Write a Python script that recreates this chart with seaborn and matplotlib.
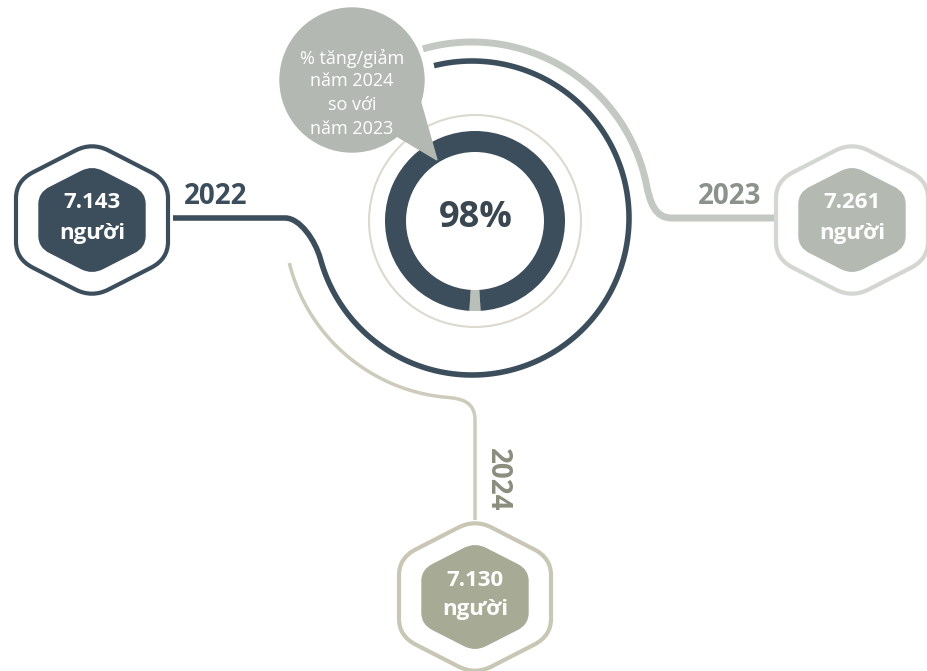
import numpy as np
import matplotlib
matplotlib.use("Agg")
import matplotlib.pyplot as plt
from matplotlib.path import Path
from matplotlib.patches import PathPatch, Circle, Polygon
import seaborn as sns

sns.set_theme(style="white")
plt.rcParams['font.family'] = ['Open Sans', 'DejaVu Sans']

# data
years = ["2022", "2023", "2024"]
counts = [7143, 7261, 7130]
unit = "người"
pct_change = 98
bubble_lines = ["% tăng/giảm", "năm 2024", "so với", "năm 2023"]

dark = "#3c4e5c"
grey = "#c3c8c2"
tan = "#cdcbbb"
hex_fill = [dark, "#b4b9b2", "#a7aa94"]
hex_edge = [dark, "#d3d6d1", "#c8c7b5"]
label_col = [dark, "#8a928b", "#8b8d7d"]


def arc_pts(cx, cy, r, a0, a1, n=200):
    t = np.radians(np.linspace(a0, a1, n))
    return list(zip(cx + r * np.cos(t), cy + r * np.sin(t)))


def path_from(parts):
    verts, codes = [], []
    for kind, pts in parts:
        if kind == "line":
            for p in pts:
                verts.append(p)
                codes.append(Path.LINETO if verts[:-1] else Path.MOVETO)
        else:  # cubic bezier: 3 points
            verts += pts
            codes += [Path.CURVE4] * 3
    return Path(verts, codes)


def rounded_hex(cx, cy, w, h, f=0.22):
    v = [(cx, cy - h), (cx + w, cy - h / 2), (cx + w, cy + h / 2),
         (cx, cy + h), (cx - w, cy + h / 2), (cx - w, cy - h / 2)]
    v = [np.array(p) for p in v]
    verts, codes = [], []
    for i in range(6):
        p, c, n = v[i - 1], v[i], v[(i + 1) % 6]
        a = c + (p - c) * f
        b = c + (n - c) * f
        verts += [tuple(a), tuple(c), tuple(b)]
        codes += [Path.MOVETO if i == 0 else Path.LINETO, Path.CURVE3, Path.CURVE3]
    verts.append(verts[0])
    codes.append(Path.CLOSEPOLY)
    return Path(verts, codes)


fig = plt.figure(figsize=(9.28, 6.71), dpi=100)
ax = fig.add_axes([0, 0, 1, 1])

# connector lines
dark_path = path_from([
    ("line", arc_pts(472, 218, 157, -104, 165)),
    ("bez", [(315, 240), (300, 218), (285, 218)]),
    ("line", [(173, 218)]),
])
ax.add_patch(PathPatch(dark_path, fill=False, ec=dark, lw=4, capstyle="butt"))

grey_path = path_from([
    ("line", arc_pts(472, 220, 178, -106, -12)),
    ("bez", [(650, 203), (655, 218), (672, 218)]),
    ("line", [(777, 218)]),
])
ax.add_patch(PathPatch(grey_path, fill=False, ec=grey, lw=5, capstyle="butt"))

tan_path = path_from([
    ("line", arc_pts(462, 220, 178, 166, 95)),
    ("bez", [(462, 398.5), (475, 402), (475, 420)]),
    ("line", [(475, 520)]),
])
ax.add_patch(PathPatch(tan_path, fill=False, ec=tan, lw=2.5, capstyle="butt"))

# donut
ax.add_patch(Circle((475, 221), 106, fill=False, ec="#dcd9cf", lw=1.5))
ax.pie([100 - pct_change, pct_change], colors=["#b9bfb9", dark],
       startangle=90 - (100 - pct_change) * 1.8, center=(475, 221), radius=90,
       frame=True, wedgeprops=dict(width=21, linewidth=0))
ax.set_xlim(0, 928)
ax.set_ylim(671, 0)
ax.set_aspect("equal")
ax.axis("off")
ax.text(476, 218, f"{pct_change}%", ha="center", va="center",
        fontsize=26, fontweight="bold", color="#3a4650")

# speech bubble
ax.add_patch(Circle((352, 80), 72, color="#b3b9b2", zorder=5))
ax.add_patch(Polygon([(395, 135), (437, 160), (420, 100)], closed=True,
                     color="#b3b9b2", zorder=5))
for i, s in enumerate(bubble_lines):
    ax.text(352, 58 + i * 23.5, s, ha="center", va="center", fontsize=13,
            color="white", zorder=6)

# hexagons
centers = [(92, 220), (852, 220), (475, 597)]
for (cx, cy), y, c, fc, ec in zip(centers, years, counts, hex_fill, hex_edge):
    ax.add_patch(PathPatch(rounded_hex(cx, cy, 76, 78), fc="white", ec=ec, lw=3, zorder=3))
    ax.add_patch(PathPatch(rounded_hex(cx, cy, 53, 54, 0.2), fc=fc, ec=fc, lw=1, zorder=4))
    ax.text(cx, cy - 17, f"{c:,}".replace(",", "."), ha="center", va="center",
            fontsize=16, fontweight="bold", color="white", zorder=5)
    ax.text(cx, cy + 13, unit, ha="center", va="center",
            fontsize=16, fontweight="bold", color="white", zorder=5)

# year labels
ax.text(216, 196, years[0], ha="center", va="center", fontsize=20,
        fontweight="bold", color=label_col[0])
ax.text(730, 196, years[1], ha="center", va="center", fontsize=20,
        fontweight="bold", color=label_col[1])
ax.text(497, 480, years[2], ha="center", va="center", fontsize=20,
        fontweight="bold", color=label_col[2], rotation=270)

fig.savefig("out.png", dpi=100, facecolor="white")
